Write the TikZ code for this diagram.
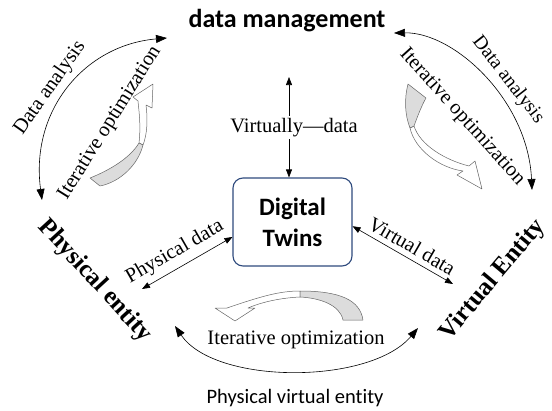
\documentclass[tikz,border=0pt]{standalone}
\usepackage{fontspec}
\setmainfont{Liberation Serif}
\newfontfamily\calibri[Ligatures={NoCommon}]{Carlito}
\usetikzlibrary{arrows.meta, positioning, calc}
\definecolor{twinblue}{HTML}{2E4A7D}
\definecolor{bandgray}{HTML}{DCDCDC}
\tikzstyle{twinbox} = [rectangle, rounded corners=10pt, draw=twinblue, line width=1.1pt, minimum width=119pt, minimum height=88pt, align=center, font=\calibri\bfseries\fontsize{25}{31}\selectfont]
\tikzstyle{heading} = [font=\calibri\bfseries\fontsize{26}{30}\selectfont, inner sep=0pt]
\tikzstyle{footer} = [font=\calibri\fontsize{20.5}{24}\selectfont, inner sep=0pt]
\tikzstyle{entity} = [font=\bfseries\fontsize{25}{30}\selectfont, inner sep=0pt]
\tikzstyle{note} = [font=\fontsize{20.5}{24}\selectfont, inner sep=0pt]
\tikzstyle{bigarrow} = [line width=0.6pt, {Triangle[length=11pt,width=8pt]}-{Triangle[length=11pt,width=8pt]}]
\tikzstyle{arrow} = [line width=0.6pt, {Triangle[length=8pt,width=6pt]}-{Triangle[length=8pt,width=6pt]}]
\tikzstyle{band} = [draw=black!60, line width=0.5pt, line join=round]

\begin{document}
\begin{tikzpicture}[x=1pt, y=-1pt]
\useasboundingbox (0,0) rectangle (552,410);

% Nodes
\node[twinbox] (twins) at (292.5,222) {Digital\\Twins};
\node[heading, anchor=base] (mgmt) at (287,27) {data management};
\node[entity, rotate=-47.5] (phys) at (95,281) {Physical entity};
\node[entity, rotate=50] (virt) at (493,280) {Virtual Entity};
\node[footer] (pve) at (295,398) {Physical virtual entity};

% Arc labels
\node[note, rotate=55] (lanalysis) at (50,88) {Data analysis};
\node[note, rotate=58] (liter) at (110,123) {Iterative optimization};
\node[note, rotate=-52, font=\fontsize{19.5}{24}\selectfont] (ranalysis) at (508,80) {Data analysis};
\node[note, rotate=-48] (riter) at (462,117) {Iterative optimization};
\node[note] (biter) at (296,340) {Iterative optimization};

% Free ends
\coordinate (la1) at (42,200);
\coordinate (la2) at (167,38);
\coordinate (ra1) at (394,33);
\coordinate (ra2) at (532,190);
\coordinate (ba1) at (175,326);
\coordinate (ba2) at (418,328);
\coordinate (vtop) at (289,77);
\coordinate (pend) at (142,289);
\coordinate (vend) at (453,284);

% Arrows
\draw[arrow] (vtop) -- node[note, fill=white, xshift=5pt, inner ysep=2pt] (vdata) {Virtually---data} (vtop |- twins.north);
\draw[arrow] (pend) -- node[note, sloped, above=6pt, pos=0.45] (pdata) {Physical data} (twins.194);
\draw[arrow] (twins.-4) -- node[note, sloped, above=5pt, pos=0.53] (virtdata) {Virtual data} (vend);
\draw[bigarrow] (la1) .. controls (30,110) and (85,45) .. (la2);
\draw[bigarrow] (ra1) .. controls (454,32) and (528,100) .. (ra2);
\draw[bigarrow] (ba1) .. controls (215,385) and (370,385) .. (ba2);

% Curved block arrows
\filldraw[band, fill=white] (139,143) .. controls (141,125) and (139,112) .. (138,101) -- (133,97) -- (153,84) -- (152,108) -- (146,105) .. controls (148,120) and (147,135) .. (143,145) -- cycle;
\filldraw[band, fill=bandgray] (139,143) .. controls (130,158) and (110,170) .. (90,178) -- (100,186) .. controls (120,182) and (138,165) .. (143,145) -- cycle;
\filldraw[band, fill=white] (410,128) .. controls (415,150) and (440,168) .. (463,171) -- (457,175) -- (482,189) -- (475,161) -- (469,166) .. controls (445,160) and (420,145) .. (414,126) -- cycle;
\filldraw[band, fill=bandgray] (414,126) .. controls (418,115) and (422,105) .. (426,98) -- (408,84) .. controls (404,100) and (405,115) .. (410,128) -- cycle;
\filldraw[band, fill=white] (300,291) .. controls (280,291) and (262,296) .. (227,308) -- (215,308) -- (235,321) -- (255,308) -- (248,308) .. controls (262,302) and (280,298) .. (300,297) -- cycle;
\filldraw[band, fill=bandgray] (300,291) .. controls (340,291) and (360,300) .. (363,320) -- (343,320) .. controls (340,305) and (320,298) .. (300,297) -- cycle;

\end{tikzpicture}
\end{document}
